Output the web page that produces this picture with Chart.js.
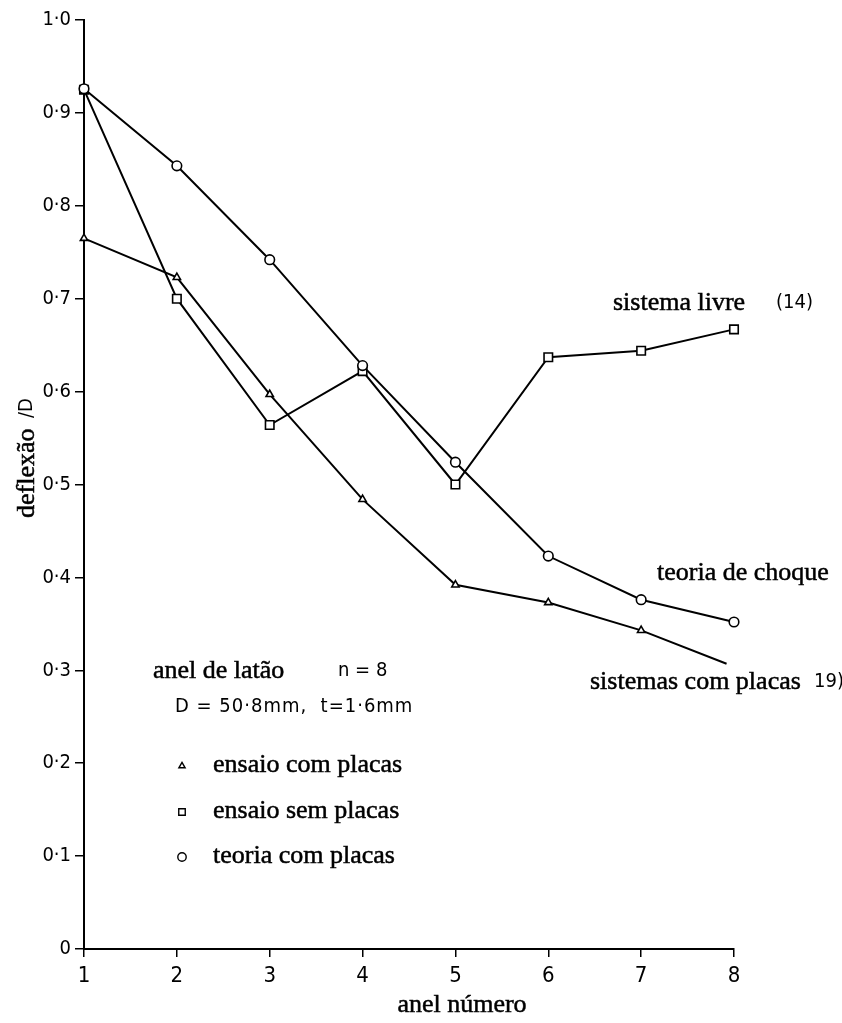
<!DOCTYPE html>
<html><head><meta charset="utf-8">
<script src="https://cdn.jsdelivr.net/npm/chart.js@4/dist/chart.umd.min.js"></script>
<style>html,body{margin:0;padding:0;background:#fff}#wrap{width:842px;height:1023px;position:relative}</style>
</head><body><div id="wrap"><canvas id="c" width="842" height="1023"></canvas></div>
<script>
// ---- data ----
const ringNumbers = [1, 2, 3, 4, 5, 6, 7, 8];
const ensaioComPlacasX = [1, 2, 3, 4, 5, 6, 7, 7.92];           // last point: curve end, no marker
const ensaioComPlacas  = [0.765, 0.723, 0.597, 0.484, 0.392, 0.373, 0.343, 0.307];
const ensaioSemPlacas  = [0.925, 0.700, 0.564, 0.622, 0.500, 0.637, 0.644, 0.667];
const teoriaComPlacas  = [0.926, 0.843, 0.742, 0.628, 0.524, 0.423, 0.376, 0.352];
const yTicks = [0, 0.1, 0.2, 0.3, 0.4, 0.5, 0.6, 0.7, 0.8, 0.9, 1.0];
const curveLabels = ['sistema livre', '(14)', 'teoria de choque', 'sistemas com placas', '19)'];
const legendLabels = ['ensaio com placas', 'ensaio sem placas', 'teoria com placas'];
const infoLines = ['anel de latão', 'n = 8', 'D = 50·8mm,  t=1·6mm'];
const xTitle = 'anel número';
const yTitle = ['deflexão', '/D'];

const SERIF = '"Liberation Serif", "DejaVu Serif", serif';
const SANS = '"DejaVu Sans Condensed", "DejaVu Sans", "Liberation Sans Narrow", sans-serif';

function pts(xs, ys){ return ys.map((v,i)=>({x:xs[i], y:v})); }
const base = {borderColor:'#000', borderWidth:2, pointBackgroundColor:'#fff', pointBorderColor:'#000',
  pointBorderWidth:1.6, tension:0, fill:false, clip:12};

const datasets = [
  Object.assign({}, base, {label:legendLabels[2], data:pts(ringNumbers, teoriaComPlacas), pointStyle:'circle', pointRadius:4.8}),
  Object.assign({}, base, {label:legendLabels[1], data:pts(ringNumbers, ensaioSemPlacas), pointStyle:'rect', pointRadius:6}),
  Object.assign({}, base, {label:legendLabels[0], data:pts(ensaioComPlacasX, ensaioComPlacas), pointStyle:'triangle',
    pointRadius:(c)=> c.dataIndex === ensaioComPlacas.length-1 ? 0 : 4.2})
];

function txt(ctx, s, x, y, font, align, serif){
  ctx.font = font; ctx.textAlign = align || 'left'; ctx.textBaseline = 'middle';
  ctx.fillText(s, x, y);
  if (serif){ ctx.lineWidth = 0.5; ctx.strokeStyle = '#000'; ctx.strokeText(s, x, y); }
}

const annot = {
  id:'annot',
  afterDraw(chart){
    const ctx = chart.ctx;
    ctx.save();
    ctx.fillStyle = '#000';
    const F = '26px ' + SERIF, S = '20px ' + SANS;
    // curve labels
    txt(ctx, curveLabels[0], 613, 303, F, 'left', true);
    txt(ctx, curveLabels[1], 776, 303, S);
    txt(ctx, curveLabels[2], 657, 573, F, 'left', true);
    txt(ctx, curveLabels[3], 590, 682, F, 'left', true);
    txt(ctx, curveLabels[4], 814, 682, S);
    // info block
    txt(ctx, infoLines[0], 153, 671, F, 'left', true);
    txt(ctx, infoLines[1], 338, 671, S);
    ctx.letterSpacing = '1px';
    txt(ctx, infoLines[2], 175, 707, S);
    ctx.letterSpacing = '0px';
    // legend
    const ly = [766, 812, 857];
    const styles = ['triangle', 'rect', 'circle'];
    const radii = [3.6, 4.6, 4.2];
    for (let i=0;i<3;i++){
      ctx.fillStyle = '#fff'; ctx.strokeStyle = '#000'; ctx.lineWidth = 1.4;
      Chart.helpers.drawPoint(ctx, {pointStyle:styles[i], radius:radii[i], borderWidth:1.4}, 182, ly[i]);
      ctx.fillStyle = '#000';
      txt(ctx, legendLabels[i], 213, ly[i]-1, F, 'left', true);
    }
    // axis titles
    txt(ctx, xTitle, 462, 1005, F, 'center', true);
    ctx.translate(27, 0);
    ctx.rotate(-Math.PI/2);
    txt(ctx, yTitle[0], -518, 0, F, 'left', true);
    txt(ctx, yTitle[1], -418, 0, S);
    ctx.restore();
  }
};

new Chart(document.getElementById('c'), {
  type:'line',
  data:{datasets},
  options:{
    responsive:false, animation:false, events:[],
    layout:{padding:{top:20, right:108, left:0, bottom:0}},
    plugins:{legend:{display:false}, tooltip:{enabled:false}},
    scales:{
      x:{type:'linear', min:1, max:8,
        afterFit(s){ s.height = 74; },
        afterBuildTicks(s){ s.ticks = ringNumbers.map(v=>({value:v})); },
        ticks:{color:'#000', font:{family:SANS, size:22}, padding:6, callback:v=>String(v)},
        grid:{drawOnChartArea:false, color:'#000', tickLength:8, lineWidth:1.5},
        border:{color:'#000', width:2}},
      y:{type:'linear', min:0, max:1,
        afterFit(s){ s.width = 84; },
        afterBuildTicks(s){ s.ticks = yTicks.map(v=>({value:v})); },
        ticks:{color:'#000', font:{family:SANS, size:20}, padding:4,
          callback:v=> v===0 ? '0' : v.toFixed(1).replace('.', '·')},
        grid:{drawOnChartArea:false, color:'#000', tickLength:9, lineWidth:1.5},
        border:{color:'#000', width:2}}
    }
  },
  plugins:[annot]
});
</script></body></html>
